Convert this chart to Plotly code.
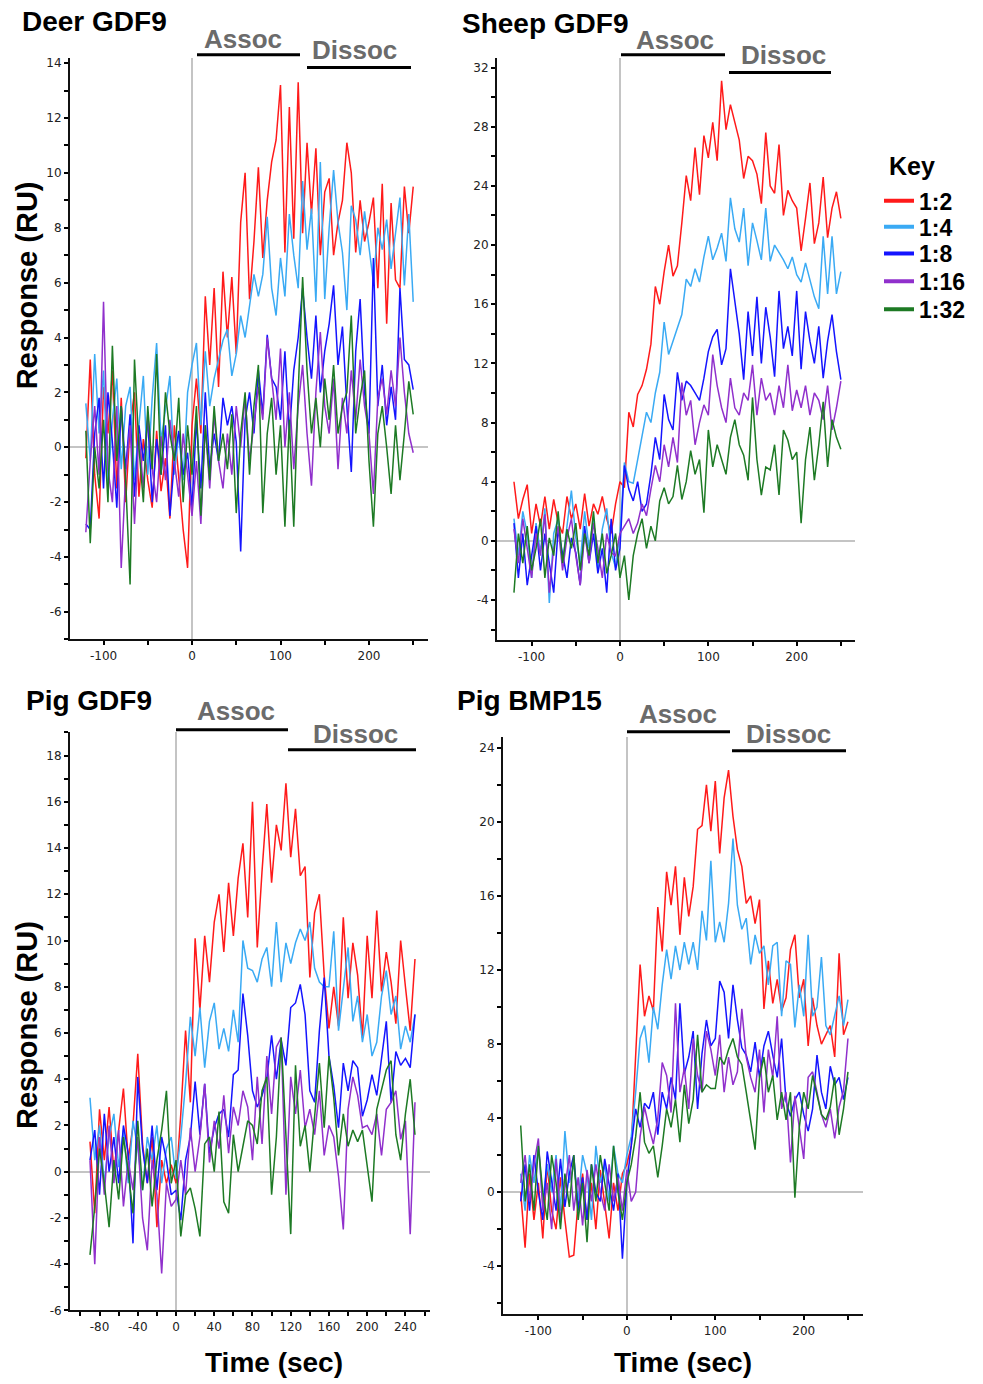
import plotly.graph_objects as go

W, H = 983, 1384


def px(x):
    return x / W


def py(y):
    return 1 - y / H


SERIES = ["1:2", "1:4", "1:8", "1:16", "1:32"]
COLORS = ["#ff1a1a", "#3aaaf4", "#1414ff", "#9030cc", "#1d7a24"]

t_std = list(range(-120, 251, 5))
t_pig = list(range(-90, 251, 5))

# tick values (labels are the same numbers written with a plain hyphen)
X_TICKS_STD = [-100, 0, 100, 200]
X_TICKS_PIG = [-80, -40, 0, 40, 80, 120, 160, 200, 240]
Y_TICKS_DEER = [-6, -4, -2, 0, 2, 4, 6, 8, 10, 12, 14]
Y_TICKS_SHEEP = [-4, 0, 4, 8, 12, 16, 20, 24, 28, 32]
Y_TICKS_PIG = [-6, -4, -2, 0, 2, 4, 6, 8, 10, 12, 14, 16, 18]
Y_TICKS_BMP = [-4, 0, 4, 8, 12, 16, 20, 24]

# ---------------- Deer GDF9 ----------------
deer_1_2 = [-0.4, 3.2, -1.0, -2.6, 2.2, 0.5, 2.8, -1.5, 1.8, -2.0, 0.8, 2.0, -1.8, 0.3, -1.2, -2.2, 0.6, -1.6, -0.4, -2.6, 0.8, -1.2, -3.0, -4.4,
            0.8, 2.5, 0.5, 5.5, 3.0, 5.8, 2.2, 6.4, 4.0, 6.2, 3.4, 8.2, 10.0, 5.4, 7.5, 10.2, 6.9, 9.0, 10.4, 11.2,
            13.2, 7.1, 12.4, 7.6, 13.3, 7.8, 11.1, 8.5, 10.9, 7.0, 9.3, 9.8, 7.0, 8.2, 9.0, 11.1, 10.0, 7.1, 9.0, 7.5,
            8.2, 9.1, 5.8, 9.6, 4.5, 8.9, 6.1, 5.8, 9.5, 7.8, 9.5]
deer_1_4 = [1.6, -0.5, 3.4, 0.5, 2.8, -1.5, 1.0, 2.5, -0.8, 1.5, 2.2, -1.2, 0.8, 2.6, -1.0, 1.8, 3.8, 0.2, 1.4, 2.6, -1.0, 0.5, -1.2, 2.0,
            3.0, 3.8, 0.8, 3.5, 1.5, 2.5, 3.2, 3.9, 4.3, 2.6, 3.4, 4.8, 4.0, 5.2, 6.3, 5.5, 6.3, 8.4, 5.8, 4.8,
            6.9, 5.5, 8.5, 7.0, 5.8, 9.7, 7.2, 8.7, 5.3, 10.4, 5.4, 8.0, 10.1, 8.2, 7.1, 5.0, 8.8, 8.3, 7.0, 8.6,
            7.4, 6.0, 8.0, 7.2, 8.3, 6.5, 7.8, 9.1, 5.9, 8.5, 5.3]
deer_1_8 = [-2.8, -3.0, 0.5, 1.8, -1.5, 2.0, 0.2, -2.2, 1.5, -0.8, 1.2, -1.8, 0.8, -0.5, 1.0, -2.0, 0.3, -1.0, 0.8, -2.5, -0.5, 0.6, -1.0, -0.2,
            -2.2, 1.0, -1.5, 2.0, -0.8, 0.5, -0.5, 1.8, 0.8, 1.5, 0.2, -3.8, 1.0, 2.0, 0.5, 2.8, 1.2, 4.1, 2.5, 2.2,
            1.0, 3.5, 0.5, 2.8, 4.0, 5.8, 4.0, 2.5, 4.8, 2.0, 3.5, 4.5, 5.9, 3.0, 4.4, 1.5, -0.9, 3.5, 5.4, 2.0,
            0.5, 6.9, 1.5, 3.0, 0.8, 2.2, 1.0, 5.8, 3.2, 3.0, 2.1]
deer_1_16 = [-3.1, -0.5, 1.5, -1.0, 5.3, -0.8, -2.0, 1.5, -4.4, -1.0, 0.8, -2.8, 0.5, -1.5, 1.2, -0.8, -2.0, 0.4, -1.2, 1.0, -0.5, -1.8, 0.5, -1.0,
             -2.5, -0.5, -2.8, 0.8, -1.5, 1.2, -0.5, -1.5, 0.5, -1.0, 1.5, 0.0, 1.8, -0.5, 0.8, 2.2, 1.0, 4.0, 2.5, 1.0,
             3.6, 0.0, 2.0, -0.8, 1.5, 3.0, 0.5, -1.4, 2.0, 4.2, 1.5, 0.5, 2.5, -0.8, 1.8, 0.5, 2.8, 1.0, 3.2, 1.5,
             0.5, -1.7, 1.8, 2.5, 1.2, 2.8, 1.5, 4.0, 2.0, 0.5, -0.2]
deer_1_32 = [0.6, -3.5, 0.0, -1.5, 1.0, -2.0, 3.7, -0.5, 1.5, -1.2, -5.0, 3.2, 0.0, -2.0, 1.5, -0.8, 3.4, -1.0, 2.0, 0.5, -0.5, 1.8, -2.0, 0.8,
             -1.0, 1.5, -2.5, 0.8, -1.2, 1.5, -0.5, 0.5, -0.8, 1.2, -2.4, 0.5, 2.0, -1.0, 1.5, 3.0, -2.4, 0.5, 1.8, -1.0,
             0.8, -2.9, 1.0, -2.9, 2.0, 6.2, 2.8, 0.5, 1.8, 0.0, 2.5, 1.0, 3.0, 0.5, 1.5, 2.0, 4.8, 0.5, 1.8, 2.8,
             -0.5, -2.9, 0.5, 1.5, 0.0, -1.7, 0.8, -1.2, 0.5, 2.4, 1.2]

# ---------------- Sheep GDF9 ----------------
sheep_1_2 = [4.0, 1.5, 2.8, 3.8, 0.5, 2.5, 1.0, 3.0, 0.8, 2.8, 1.2, 0.5, 3.0, 1.5, 2.5, 0.8, 3.2, 1.0, 2.5, 1.8, 3.0, 1.5, 0.5, 2.5,
             4.0, 3.6, 8.7, 7.7, 9.9, 10.5, 11.6, 13.3, 17.2, 16.0, 18.2, 20.0, 17.9, 18.6, 21.5, 24.7, 23.0, 26.6, 23.4, 27.4,
             25.9, 28.3, 25.7, 31.1, 27.8, 29.5, 28.3, 27.1, 24.5, 26.0, 25.7, 24.8, 22.8, 27.6, 24.0, 23.5, 26.8, 22.0, 23.7, 23.0,
             22.5, 19.6, 21.8, 24.2, 20.1, 21.5, 24.6, 20.5, 22.5, 23.6, 21.8]
sheep_1_4 = [1.5, -1.0, 2.0, 0.5, -2.5, 1.2, -0.8, 2.2, -4.2, 0.5, 1.5, -1.5, 1.0, 3.4, 0.2, -1.5, 2.0, -0.5, 1.5, -2.0, 0.8, 2.2, -0.8, -1.8,
             0.5, 5.3, 4.0, 3.9, 5.5, 7.0, 8.7, 8.0, 10.0, 11.4, 14.8, 12.6, 13.5, 14.3, 15.3, 17.7, 17.2, 18.4, 17.5, 19.2,
             20.6, 19.0, 19.8, 20.8, 18.9, 23.2, 21.1, 20.2, 22.5, 18.6, 21.5, 20.3, 19.0, 22.5, 18.9, 20.0, 19.5, 19.0, 18.4, 19.2,
             18.0, 17.5, 18.8, 17.7, 16.5, 15.7, 20.6, 16.7, 20.6, 16.7, 18.2]
sheep_1_8 = [1.2, -2.5, 0.5, -3.0, -1.0, 1.0, -2.0, 0.5, -1.5, -3.5, 0.8, -1.0, -2.5, 0.2, -0.8, -3.0, 1.0, -1.5, 0.5, -2.2, -0.5, -3.5, 1.5, -2.0,
             -0.5, 5.1, 3.5, 2.7, 4.0, 2.0, 2.5, 4.5, 7.0, 5.5, 9.9, 8.2, 7.5, 11.4, 9.5, 10.8, 10.5, 10.0, 9.5, 11.0,
             12.8, 13.8, 14.3, 11.9, 13.0, 18.4, 16.0, 14.0, 10.9, 15.5, 12.5, 16.5, 12.0, 15.8, 13.8, 11.1, 16.9, 13.0, 14.5, 12.5,
             16.9, 11.6, 15.5, 13.5, 12.0, 14.5, 11.0, 13.5, 15.3, 12.8, 10.9]
sheep_1_16 = [0.8, -1.5, 1.5, -0.5, -2.5, 0.5, -1.0, 1.8, -3.5, -0.5, 1.0, -2.0, 0.2, 1.5, -1.0, -3.0, 0.5, -1.5, 1.2, -0.5, -2.5, 0.5, -0.8, -1.0,
              0.5, 1.0, 1.5, 0.5, 1.2, 2.5, 1.7, 3.5, 5.1, 4.0, 6.5, 5.0, 7.0, 5.3, 10.7, 8.5, 9.5, 6.5, 8.0, 9.2,
              8.5, 12.6, 10.5, 9.0, 8.0, 11.0, 9.0, 8.5, 10.0, 9.5, 11.9, 8.5, 11.0, 9.5, 10.0, 8.5, 10.5, 9.0, 11.9, 8.8,
              10.2, 9.0, 10.5, 8.5, 10.0, 9.5, 8.2, 10.5, 7.5, 9.0, 10.8]
sheep_1_32 = [-3.5, 0.5, -1.5, 1.0, -2.0, -0.5, 1.5, -2.5, 0.2, -1.0, 2.0, -1.5, 0.8, -0.5, 1.2, -2.0, 0.5, -1.0, 2.0, -1.5, 0.5, -2.2, -1.0, 0.5,
              -2.5, -1.0, -4.0, -1.0, 0.5, 1.5, -0.5, 1.0, 0.0, 2.7, 3.6, 2.5, 3.0, 5.1, 2.8, 4.0, 6.1, 4.5, 5.5, 1.9,
              7.5, 5.0, 6.5, 5.5, 4.5, 7.0, 8.2, 6.5, 5.8, 4.1, 9.7, 5.5, 3.1, 5.0, 4.8, 6.5, 3.1, 7.5, 6.8, 5.5,
              6.0, 1.2, 5.5, 7.7, 4.1, 6.5, 9.4, 5.0, 8.2, 7.0, 6.2]

# ---------------- Pig GDF9 ----------------
pig_1_2 = [1.3, -1.8, 2.7, 0.5, 2.8, 0.0, 1.8, 3.6, 0.5, 2.0, 5.1, 1.2, -0.5, 1.5, -2.4, 0.5, -0.5, 0.3,
           -0.5, 2.5, 6.1, 3.0, 10.1, 7.0, 10.2, 8.2, 10.8, 12.0, 9.5, 12.5, 10.2, 12.7, 14.2, 11.0, 16.0, 9.7, 13.0, 15.9,
           12.5, 15.0, 13.9, 16.8, 13.6, 15.7, 12.8, 13.2, 8.4, 11.2, 12.0, 8.5, 6.2, 8.0, 6.3, 11.0, 7.5, 9.9, 8.5, 5.8,
           10.2, 7.5, 11.3, 7.8, 9.5, 8.2, 6.4, 10.0, 8.0, 6.1, 9.2]
pig_1_4 = [3.2, 0.5, 2.0, -0.5, 1.5, 2.5, 0.2, 1.8, -0.5, 2.2, 1.0, -0.8, 1.5, 0.5, 2.0, -0.5, 1.0, 1.5,
           -0.3, 1.5, 3.8, 6.7, 5.0, 7.1, 4.5, 6.5, 7.3, 5.3, 6.2, 5.2, 7.0, 5.6, 10.0, 8.8, 8.7, 8.2, 9.2, 9.7,
           8.0, 10.8, 8.2, 9.9, 9.0, 9.9, 10.5, 10.0, 10.8, 8.8, 8.2, 8.0, 8.0, 10.4, 6.1, 8.0, 9.7, 6.5, 7.6, 5.6,
           6.8, 5.0, 5.6, 7.6, 8.7, 6.8, 7.6, 5.3, 6.3, 5.6, 6.8]
pig_1_8 = [0.5, 1.8, -1.0, 2.5, 0.0, 1.5, -0.5, 2.0, 0.8, -3.1, 4.1, 1.0, -0.5, 2.0, -0.8, 1.5, 0.5, -1.0,
           -0.8, -2.1, 0.5, 1.5, 3.9, 1.6, 3.8, 0.8, 1.9, 2.5, 2.7, 1.5, 4.2, 4.4, 7.7, 5.9, 3.5, 2.8, 3.3, 4.0,
           5.9, 4.0, 5.7, 4.6, 7.1, 7.3, 8.1, 6.8, 3.5, 3.0, 6.1, 8.4, 5.0, 3.7, 1.9, 4.7, 3.5, 4.8, 4.5, 2.4,
           3.1, 4.2, 3.3, 5.0, 6.5, 3.0, 5.2, 4.6, 4.9, 4.5, 6.8]
pig_1_16 = [0.5, -4.0, 1.5, -1.0, 2.0, -0.5, 1.8, -1.5, 0.5, -0.8, 1.5, -2.0, -3.4, 0.5, -1.0, -4.4, -0.5, -1.5,
            -1.2, 0.5, -1.0, 1.9, 0.0, 1.5, 3.8, 0.4, 2.2, 1.0, 3.3, 0.8, 2.8, 2.0, 3.5, 2.8, 0.5, 4.1, 1.2, 5.0,
            2.5, 5.4, 5.8, -1.0, 4.1, 2.5, 4.4, 1.9, 2.7, 1.6, 3.5, 0.7, 2.0, 1.5, -0.2, -2.5, 2.7, 4.1, 3.3, 1.9,
            2.0, 1.6, 2.5, 0.7, 2.7, 3.0, 3.5, 1.4, 2.2, -2.7, 3.0]
pig_1_32 = [-3.6, -1.5, 1.0, -0.5, -2.4, 0.5, -1.2, 1.5, 0.0, -1.8, 2.2, -0.8, 1.0, -1.5, 0.5, 1.8, 3.5, -0.5,
            0.5, -2.8, -1.0, -0.7, -1.6, -2.8, 1.2, 1.5, 0.0, 2.6, -1.3, -1.8, 1.6, 0.0, 1.1, 2.2, 2.0, 1.2, 3.5, 4.1,
            -1.0, 1.5, 5.8, 1.5, -2.7, 4.6, 1.1, 2.0, 0.0, 2.4, 4.7, 1.9, 5.0, 3.2, 0.7, 2.5, 1.1, 1.8, 1.3, 1.8,
            0.2, -1.3, 2.7, 3.5, 4.4, 4.8, 1.6, 0.5, 2.5, 4.0, 1.6]

# ---------------- Pig BMP15 ----------------
bmp_1_2 = [0.0, -3.0, 1.0, -1.5, 0.5, -2.5, 1.5, -1.0, -2.0, 0.8, -1.5, -3.5, -3.4, -0.5, 1.0, -1.5, 0.5, -2.0, 1.2, -0.8, -2.5, 0.5, -1.0, 1.0,
           1.5, 2.5, 7.3, 12.3, 9.5, 10.6, 9.8, 15.4, 13.0, 17.3, 15.5, 17.6, 13.9, 17.0, 14.9, 16.5, 19.6, 19.8, 22.0, 19.5,
           22.2, 18.3, 21.3, 22.8, 20.3, 18.5, 17.6, 15.6, 16.0, 14.5, 15.8, 9.9, 12.5, 10.2, 11.5, 9.8, 10.5, 13.1, 13.9, 10.5,
           11.5, 7.9, 10.5, 9.0, 8.0, 8.5, 9.0, 7.3, 12.9, 8.5, 9.2]
bmp_1_4 = [1.0, -1.0, 2.0, 0.5, 2.5, -0.5, 1.5, 0.0, 2.0, -1.0, 3.3, 0.5, 1.5, -0.5, 2.0, 1.0, -1.5, 2.5, 0.5, 1.5, -0.5, 2.5, 1.0, 0.5,
           2.0, 3.0, 5.4, 8.3, 9.0, 7.0, 10.0, 8.8, 11.2, 13.1, 11.5, 13.3, 12.0, 13.5, 12.3, 13.5, 12.0, 15.2, 13.6, 17.9,
           13.5, 14.6, 13.5, 15.6, 19.1, 15.5, 14.2, 14.8, 12.3, 13.9, 12.9, 13.3, 11.2, 13.3, 13.5, 9.5, 12.5, 12.3, 8.9, 11.2,
           9.5, 13.9, 9.5, 10.0, 12.7, 9.0, 8.5, 9.5, 10.6, 9.0, 10.4]
bmp_1_8 = [-0.5, 1.5, -1.0, 2.0, 0.0, -1.5, 2.2, 0.5, -1.0, 1.8, -0.8, 1.0, 2.0, -1.0, 0.8, -1.5, 1.5, 0.0, -0.5, 1.8, 0.5, -1.0, 1.0, -3.6,
           0.5, 2.5, 4.5, 3.5, 4.8, 4.5, 5.4, 3.1, 5.4, 4.5, 6.2, 5.0, 10.2, 6.4, 7.3, 8.7, 4.5, 7.5, 9.3, 7.9,
           8.3, 11.4, 10.8, 8.3, 11.2, 9.3, 7.8, 7.4, 6.5, 8.1, 6.2, 7.9, 8.7, 7.4, 6.2, 8.3, 4.9, 4.1, 5.0, 5.4,
           4.2, 3.3, 4.5, 7.4, 5.4, 4.5, 6.8, 5.8, 6.2, 5.0, 6.2]
bmp_1_16 = [0.5, 2.0, -0.5, 1.5, 2.9, -1.0, 0.5, -2.0, 1.8, -1.5, 0.2, 2.0, -1.0, 0.8, -1.8, 1.2, -0.5, 1.5, 0.0, -1.0, 1.5, -0.5, 0.8, -1.0,
            1.2, -0.5, 0.0, 3.0, 4.6, 3.5, 2.6, 4.0, 7.0, 6.3, 4.3, 10.2, 5.4, 6.7, 4.5, 8.3, 6.3, 5.4, 8.7, 7.7,
            6.3, 8.5, 5.4, 7.3, 5.8, 6.5, 9.9, 7.3, 6.2, 5.4, 7.7, 4.3, 7.7, 6.2, 9.5, 4.5, 5.4, 1.6, 5.2, 3.5,
            1.8, 6.2, 6.5, 5.4, 4.2, 3.5, 4.5, 2.9, 4.6, 5.5, 8.3]
bmp_1_32 = [3.6, -0.5, 1.5, -1.0, 2.5, 0.0, -1.5, 2.0, 0.5, -2.0, 1.0, -0.8, 2.0, -1.5, 0.5, -2.7, 1.5, -0.5, 2.0, 0.5, -1.0, 2.5, 0.0, -1.5,
            0.5, 1.5, 3.0, 5.4, 2.7, 2.1, 2.5, 0.8, 2.5, 4.5, 3.5, 5.0, 2.7, 5.8, 3.7, 5.0, 8.5, 5.4, 5.8, 5.6,
            5.6, 7.3, 6.9, 7.7, 8.3, 7.3, 6.9, 5.4, 3.9, 2.3, 6.2, 7.3, 5.4, 6.3, 3.9, 5.4, 3.9, 5.4, -0.3, 3.5,
            5.4, 4.5, 6.3, 5.2, 4.2, 3.9, 4.6, 6.2, 3.1, 4.5, 6.5]

PANELS = [
    dict(title="Deer GDF9", t=t_std, data=[deer_1_2, deer_1_4, deer_1_8, deer_1_16, deer_1_32],
         xdom=[70, 428], ydom=[642, 57], xr=[-137.9, 266.7], yr=[-7.0, 14.2],
         xt=X_TICKS_STD, xm=50, yt=Y_TICKS_DEER, ym=1,
         tpos=(20, 21), assoc=((243, 38), (197, 300, 54)), dissoc=((354, 49), (307, 411, 67))),
    dict(title="Sheep GDF9", t=t_std, data=[sheep_1_2, sheep_1_4, sheep_1_8, sheep_1_16, sheep_1_32],
         xdom=[497, 855], ydom=[643, 57], xr=[-139.2, 266.0], yr=[-6.72, 32.67],
         xt=X_TICKS_STD, xm=50, yt=Y_TICKS_SHEEP, ym=2,
         tpos=(460, 23), assoc=((675, 39), (621, 725, 54)), dissoc=((783, 54), (729, 831, 72))),
    dict(title="Pig GDF9", t=t_pig, data=[pig_1_2, pig_1_4, pig_1_8, pig_1_16, pig_1_32],
         xdom=[70, 430], ydom=[1317, 735], xr=[-110.9, 265.7], yr=[-6.0, 19.03],
         xt=X_TICKS_PIG, xm=20, yt=Y_TICKS_PIG, ym=1,
         tpos=(24, 704), assoc=((236, 714), (176, 288, 733)), dissoc=((355, 737), (288, 416, 753))),
    dict(title="Pig BMP15", t=t_std, data=[bmp_1_2, bmp_1_4, bmp_1_8, bmp_1_16, bmp_1_32],
         xdom=[503, 863], ydom=[1321, 740], xr=[-140.0, 267.0], yr=[-6.6, 24.6],
         xt=X_TICKS_STD, xm=50, yt=Y_TICKS_BMP, ym=2,
         tpos=(455, 704), assoc=((678, 717), (627, 730, 735)), dissoc=((788, 737), (732, 846, 754))),
]

BOLD = "Liberation Sans, Arial, sans-serif"
TICKFONT = dict(family="DejaVu Sans, Verdana, sans-serif", size=12, color="#222")
TICK = dict(ticklen=4, tickwidth=1.5, tickcolor="black")

fig = go.Figure()
layout = dict(width=W, height=H, margin=dict(l=0, r=0, t=0, b=0),
              paper_bgcolor="white", plot_bgcolor="rgba(0,0,0,0)", showlegend=True)
annotations = []
shapes = []

for k, p in enumerate(PANELS, start=1):
    xa = "x" if k == 1 else f"x{k}"
    ya = "y" if k == 1 else f"y{k}"
    for name, color, vals in zip(SERIES, COLORS, p["data"]):
        fig.add_trace(go.Scatter(x=p["t"], y=vals, mode="lines", xaxis=xa, yaxis=ya,
                                 line=dict(color=color, width=1.5), name=name,
                                 showlegend=False, hoverinfo="skip"))
    xtext = [str(v) for v in p["xt"]]
    ytext = [str(v) for v in p["yt"]]
    layout[f"xaxis{k}"] = dict(domain=[px(p["xdom"][0]), px(p["xdom"][1])], range=p["xr"], anchor=ya,
                               showline=True, linecolor="#111", linewidth=2, ticks="outside", showgrid=False,
                               tickmode="array", tickvals=p["xt"], ticktext=xtext, tickfont=TICKFONT,
                               zeroline=True, zerolinecolor="#c4c4c4", zerolinewidth=1.5,
                               minor=dict(dtick=p["xm"], tick0=0, ticks="outside", **TICK), **TICK)
    layout[f"yaxis{k}"] = dict(domain=[py(p["ydom"][0]), py(p["ydom"][1])], range=p["yr"], anchor=xa,
                               showline=True, linecolor="#111", linewidth=2, ticks="outside", showgrid=False,
                               tickmode="array", tickvals=p["yt"], ticktext=ytext, tickfont=TICKFONT,
                               zeroline=True, zerolinecolor="#c4c4c4", zerolinewidth=1.5,
                               minor=dict(dtick=p["ym"], tick0=0, ticks="outside", **TICK), **TICK)
    # overlay axes carrying the inner half of the crossing ticks
    layout[f"xaxis{k + 4}"] = dict(overlaying=xa, anchor=ya, range=p["xr"], showline=False, zeroline=False,
                                   showgrid=False, ticks="inside", tickmode="array", tickvals=p["xt"],
                                   showticklabels=False,
                                   minor=dict(dtick=p["xm"], tick0=0, ticks="inside", **TICK), **TICK)
    layout[f"yaxis{k + 4}"] = dict(overlaying=ya, anchor=xa, range=p["yr"], showline=False, zeroline=False,
                                   showgrid=False, ticks="inside", tickmode="array", tickvals=p["yt"],
                                   showticklabels=False,
                                   minor=dict(dtick=p["ym"], tick0=0, ticks="inside", **TICK), **TICK)
    # panel title
    annotations.append(dict(text=p["title"], x=px(p["tpos"][0]), y=py(p["tpos"][1]), xref="paper", yref="paper",
                            xanchor="left", yanchor="middle", showarrow=False,
                            font=dict(family=BOLD, size=28, color="black", weight="bold")))
    # Assoc / Dissoc labels and bars
    for label, (tp, bar) in (("Assoc", p["assoc"]), ("Dissoc", p["dissoc"])):
        annotations.append(dict(text=label, x=px(tp[0]), y=py(tp[1]), xref="paper", yref="paper",
                                xanchor="center", yanchor="middle", showarrow=False,
                                font=dict(family=BOLD, size=26, color="#6b6b6b", weight="bold")))
        shapes.append(dict(type="line", xref="paper", yref="paper", x0=px(bar[0]), x1=px(bar[1]),
                           y0=py(bar[2]), y1=py(bar[2]), line=dict(color="black", width=3)))

# key: one single-entry legend per dilution so the rows sit as tightly as in the original
KEY_ROWS = [201, 227, 254, 282, 310]
for i, (name, color, row) in enumerate(zip(SERIES, COLORS, KEY_ROWS)):
    lg = "legend" if i == 0 else f"legend{i + 1}"
    fig.add_trace(go.Scatter(x=[None], y=[None], mode="lines", xaxis="x2", yaxis="y2",
                             line=dict(color=color, width=4), name=name, showlegend=True, legend=lg))
    layout[lg] = dict(x=px(879), y=py(row), xanchor="left", yanchor="middle",
                      bgcolor="rgba(0,0,0,0)", itemwidth=30,
                      font=dict(family=BOLD, size=23, color="black", weight="bold"))
annotations.append(dict(text="Key", x=px(912), y=py(166), xref="paper", yref="paper",
                        showarrow=False, xanchor="center", yanchor="middle",
                        font=dict(family=BOLD, size=25, color="black", weight="bold")))

# axis titles
for (x, y) in ((27, 286), (27, 1030)):
    annotations.append(dict(text="Response (RU)", x=px(x), y=py(y), xref="paper", yref="paper",
                            textangle=-90, showarrow=False, xanchor="center", yanchor="middle",
                            font=dict(family=BOLD, size=29, color="black", weight="bold")))
for (x, y) in ((274, 1369), (683, 1369)):
    annotations.append(dict(text="Time (sec)", x=px(x), y=py(y), xref="paper", yref="paper",
                            showarrow=False, xanchor="center", yanchor="middle",
                            font=dict(family=BOLD, size=28, color="black", weight="bold")))

layout["annotations"] = annotations
layout["shapes"] = shapes
fig.update_layout(**layout)
fig.write_html("out.html", config={"displayModeBar": False},
               post_script="document.body.style.margin='0px';")
